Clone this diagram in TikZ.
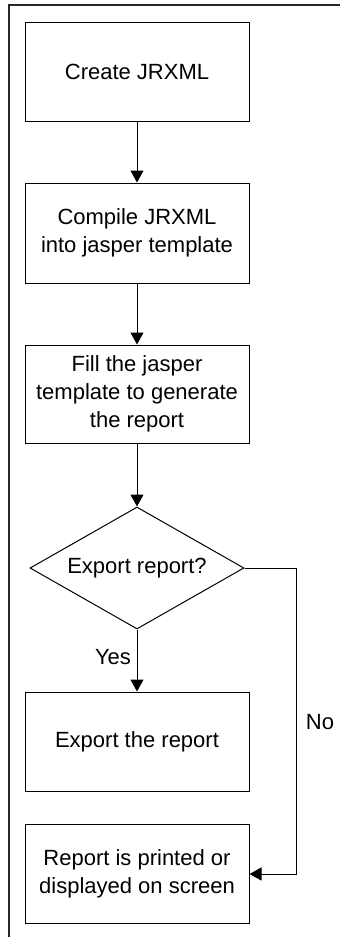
\documentclass[tikz,border=0pt]{standalone}
\usepackage{fontspec}
\setmainfont{Liberation Sans}
\usetikzlibrary{shapes.geometric,arrows.meta}
\begin{document}
\begin{tikzpicture}[x=1pt,y=-1pt,
  txt/.style={font=\fontsize{22}{28}\selectfont},
  stepbox/.style={txt, draw, line width=1pt, minimum width=224pt, minimum height=99pt, inner sep=0pt, align=center},
  decide/.style={txt, draw, line width=1pt, shape=diamond, aspect=1.754, minimum width=214pt, minimum height=122pt, inner sep=0pt},
  conn/.style={line width=1pt, -{Triangle[width=13pt,length=12pt]}},
  lbl/.style={txt, inner sep=0pt}]
\useasboundingbox (0,0) rectangle (340,937);
\draw[line width=1.3pt, draw=black!85] (9,937) -- (9,5) -- (340,5);
\node[stepbox] (create) at (137,71.5) {Create JRXML};
\node[stepbox, minimum height=100pt] (compile) at (137,233) {Compile JRXML\\into jasper template};
\node[stepbox, minimum height=98pt] (fill) at (137,394) {Fill the jasper\\template to generate\\the report};
\node[decide] (ask) at (137,568) {Export report?};
\node[stepbox] (export) at (137,741.5) {Export the report};
\node[stepbox] (show) at (137,873.5) {Report is printed or\\displayed on screen};
\coordinate (c1) at (296,568);
\coordinate (c2) at (296,874);
\draw[conn] (create) -- (compile);
\draw[conn] (compile) -- (fill);
\draw[conn] (fill) -- (ask);
\draw[conn] (ask) -- (export);
\draw[conn] (ask.east) -- (c1) -- (c2) -- (show.east |- c2);
\node[lbl] (yes) at (113,657) {Yes};
\node[lbl] (no) at (320,722) {No};
\end{tikzpicture}
\end{document}
